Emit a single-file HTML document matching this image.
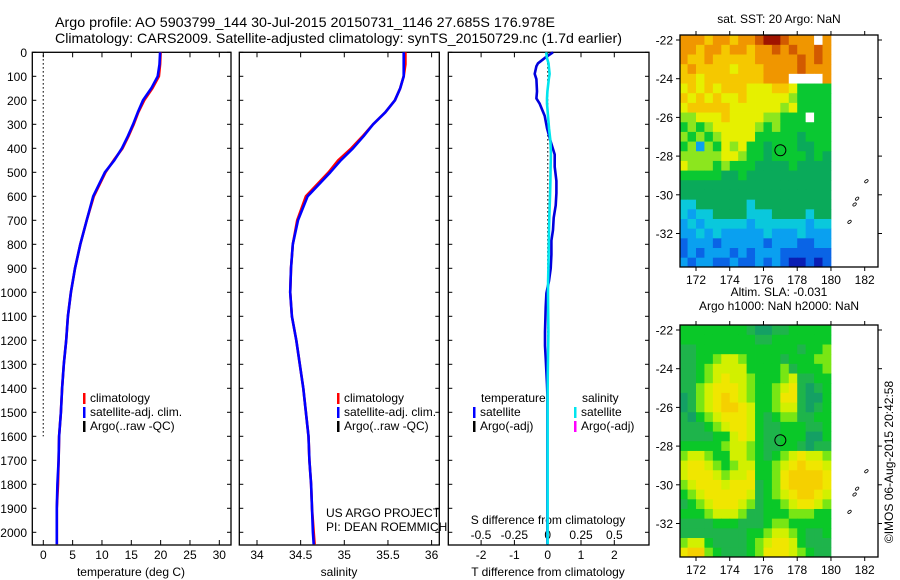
<!DOCTYPE html>
<html><head><meta charset="utf-8">
<style>
html,body{margin:0;padding:0;background:#fff;}
svg{display:block;font-family:"Liberation Sans",sans-serif;}
</style></head>
<body>
<svg id="chart" width="900" height="580" viewBox="0 0 900 580" xmlns="http://www.w3.org/2000/svg">
<rect x="0" y="0" width="900" height="580" fill="#fff"/>
<text x="55" y="27" font-size="14" textLength="500" lengthAdjust="spacingAndGlyphs">Argo profile: AO 5903799_144 30-Jul-2015 20150731_1146 27.685S 176.978E</text>
<text x="55" y="43" font-size="14" textLength="567" lengthAdjust="spacingAndGlyphs">Climatology: CARS2009. Satellite-adjusted climatology: synTS_20150729.nc (1.7d earlier)</text>
<g id="g"></g>
</svg>
<script>
// ---------- profile data ----------
const depths   = [0,50,100,150,200,250,300,350,400,450,500,600,700,800,900,1000,1100,1200,1300,1400,1500,1600,1700,1800,1900,2000,2050];
const tempClim = [20.0,19.9,19.7,18.6,17.2,16.2,15.4,14.5,13.5,12.0,10.6,8.6,7.4,6.3,5.4,4.7,4.2,3.9,3.5,3.2,3.0,2.7,2.6,2.5,2.3,2.3,2.3];
const tempSat  = [19.9,19.8,19.5,18.4,17.0,16.1,15.3,14.4,13.4,12.1,10.5,8.5,7.4,6.3,5.4,4.7,4.2,3.9,3.5,3.2,3.0,2.7,2.6,2.4,2.3,2.3,2.3];
const salClim  = [35.70,35.70,35.68,35.64,35.58,35.47,35.33,35.21,35.08,34.93,34.82,34.56,34.46,34.41,34.39,34.38,34.40,34.45,34.49,34.53,34.56,34.59,34.60,34.62,34.63,34.65,34.66];
const salSat   = [35.68,35.68,35.68,35.64,35.58,35.47,35.33,35.22,35.10,34.96,34.84,34.58,34.47,34.41,34.39,34.38,34.40,34.45,34.49,34.53,34.56,34.59,34.60,34.62,34.63,34.64,34.65];
const diffDepths = [0,21,46,58,90,112,163,192,214,265,316,368,426,477,536,587,638,689,740,784,843,901,952,1004,1062,1165,1223,1274,1333,1384,1429,1600,1800,2050];
const tDiff = [0.16,-0.06,-0.29,-0.34,-0.39,-0.34,-0.32,-0.34,-0.24,-0.09,-0.02,0.08,0.21,0.21,0.26,0.26,0.24,0.18,0.16,0.11,0.11,0.09,0.04,-0.04,-0.06,-0.08,-0.08,-0.06,-0.04,-0.02,-0.01,-0.01,-0.01,-0.01];
const sDiff = [-0.011,-0.007,0.006,0.008,0.014,0.008,-0.002,-0.005,-0.005,0.002,0.010,0.020,0.024,0.022,0.020,0.018,0.015,0.012,0.010,0.008,0.007,0.005,0.003,0.002,0.003,0.005,0.004,0.002,0.001,0.0,-0.001,-0.001,-0.001,-0.001];
const depthTicks = [0,100,200,300,400,500,600,700,800,900,1000,1100,1200,1300,1400,1500,1600,1700,1800,1900,2000];
const tempTicks = [0,5,10,15,20,25,30];
const salTicks = [34,34.5,35,35.5,36];
const tdTicks = [-2,-1,0,1,2];
const sdTicks = [-0.5,-0.25,0,0.25,0.5];
const sdTickLabels = ["-0.5","-0.25","0","0.25","0.5"];

// ---------- map data (0.5 deg cells, rows from -21.75 southward, cols from 171E) ----------
const sstGrid = [
"999899899abba999w9","99899899899a9a99a9","98898888899999a9a9","89888878889999a999",
"8878888888999wwww9","787878887778875555","878787787777765555","788888777777675555",
"667778777766555w55","565677777656555555","656567777555554555","562657675545554455",
"666667765545555454","766656555444454444","555554454444444444","444444444444444444",
"444444444444444444","334444443444444444","323344443334444344","232333332333333233",
"223232222232223222","122212222212221122","121222121222111111","212211211212100101"];
const sstColors = {"0":"#0a1eb4","1":"#0a64e6","2":"#0aa0f0","3":"#0ac8dc","4":"#0aaa5a","5":"#0ac832","6":"#8ce61e","7":"#e6f000","8":"#f5c800","9":"#f09600","a":"#d25a00","b":"#a01400","w":"#ffffff"};
const slaGrid = [
"222222221001122222","222222222112222222","112222222222221223","112234432222122233",
"112344442222312223","112345443222341122","113455543223451012","013456543223551002",
"013456654223441012","102345554212331122","111234554211222112","111122454211222002",
"222223443211221011","344322443212345443","455432344223456554","455543445223566665",
"345554555123566665","234555554123456654","123455543122345543","222344431122233322",
"111122211123322222","111111112234432112","344211112345542111","566321112355543211"];
const slaColors = {"0":"#14a064","1":"#1eb44b","2":"#0ac828","3":"#78e614","4":"#d2f000","5":"#f0e600","6":"#f5d000"};
const lonTicks = [172,174,176,178,180,182];
const latTicks = [-22,-24,-26,-28,-30,-32];
const argoLon = 177.0, argoLat = -27.7;

const NS="http://www.w3.org/2000/svg";
const G=document.getElementById('g');
function mk(tag,attrs,parent){const e=document.createElementNS(NS,tag);for(const k in attrs)e.setAttribute(k,attrs[k]);(parent||G).appendChild(e);return e;}

// scales
const yD = d => 52.3 + d*0.24;
const xT = t => 43.3 + t*5.867;
const xS = s => 257 + (s-34)*87.3;
const xTd = v => 547.7 + v*33.3;
const xSd = v => 547.7 + v*133.4;
const TOP=52.3, BOT=545;

function frame(x0,x1,name){
  const r=mk('rect',{x:x0,y:TOP,width:x1-x0,height:BOT-TOP,fill:'none',stroke:'#000','stroke-width':1.3});
  
  
  depthTicks.forEach(d=>{
    mk('line',{x1:x0,x2:x0+4,y1:yD(d),y2:yD(d),stroke:'#000'});
    mk('line',{x1:x1-4,x2:x1,y1:yD(d),y2:yD(d),stroke:'#000'});
  });
}
frame(32.3,231,'temperature-panel');
frame(239.3,439.3,'salinity-panel');
frame(448.3,649,'difference-panel');

depthTicks.forEach(d=>{
  const t=mk('text',{x:27,y:yD(d)+4.5,'font-size':12,'text-anchor':'end'});
  t.textContent=d;
  
  
});
function xticks(vals,labels,fx,yLab,name){
  vals.forEach((v,i)=>{
    const x=fx(v);
    mk('line',{x1:x,x2:x,y1:TOP,y2:TOP+5,stroke:'#000'});
    mk('line',{x1:x,x2:x,y1:BOT-5,y2:BOT,stroke:'#000'});
    const t=mk('text',{x:x,y:yLab,'font-size':12,'text-anchor':'middle'});
    t.textContent=labels[i];
    
    
  });
}
xticks(tempTicks,tempTicks.map(String),xT,559,'temperature-tick-label');
xticks(salTicks,salTicks.map(String),xS,559,'salinity-tick-label');
xticks(tdTicks,tdTicks.map(String),xTd,559,'t-difference-tick-label');
sdTicks.forEach((v,i)=>{
  const t=mk('text',{x:xSd(v),y:539,'font-size':12,'text-anchor':'middle'});
  t.textContent=sdTickLabels[i];
  
  
});
function label(x,y,txt,name,anchor,size){
  const t=mk('text',{x:x,y:y,'font-size':size||12,'text-anchor':anchor||'middle'});
  t.textContent=txt;
  
  
  return t;
}
label(131,576,'temperature (deg C)','temperature-axis-title');
label(339,576,'salinity','salinity-axis-title');
label(548,576,'T difference from climatology','t-difference-axis-title');
label(548,524,'S difference from climatology','s-difference-axis-title');
label(326,517,'US ARGO PROJECT','project-credit','start');
label(326,531,'PI: DEAN ROEMMICH','pi-credit','start');

// zero reference dotted lines
mk('line',{x1:xT(0),x2:xT(0),y1:TOP+3,y2:yD(1600),stroke:'#000','stroke-dasharray':'1.2,2.8','stroke-width':1.3});
mk('line',{x1:xTd(0),x2:xTd(0),y1:TOP+3,y2:yD(1400),stroke:'#000','stroke-dasharray':'1.2,2.8','stroke-width':1.3});

function series(xs,ds,fx,color,name,w){
  const pts=xs.map((v,i)=>fx(v).toFixed(1)+','+yD(ds[i]).toFixed(1)).join(' ');
  const p=mk('polyline',{points:pts,fill:'none',stroke:color,'stroke-width':w||2.6,'stroke-linejoin':'round'});
  
  
}
series(tempClim,depths,xT,'#ff0000','temperature-climatology-line');
series(tempSat,depths,xT,'#0000ff','temperature-satellite-line');
series(salClim,depths,xS,'#ff0000','salinity-climatology-line');
series(salSat,depths,xS,'#0000ff','salinity-satellite-line');
series(tDiff,diffDepths,xTd,'#0000dd','temperature-difference-line');
series(sDiff,diffDepths,xSd,'#00e5ee','salinity-difference-line');

function legendEntry(xb,y,color,txt,name){
  mk('rect',{x:xb,y:y-9,width:2.5,height:11,fill:color});
  const t=label(xb+7,y,txt,name,'start');
}
legendEntry(83,402,'#ff0000','climatology','legend-climatology');
legendEntry(83,416,'#0000ff','satellite-adj. clim.','legend-satellite-adj');
legendEntry(83,430,'#000000','Argo(..raw -QC)','legend-argo');
legendEntry(337,402,'#ff0000','climatology','legend-climatology-sal');
legendEntry(337,416,'#0000ff','satellite-adj. clim.','legend-satellite-adj-sal');
legendEntry(337,430,'#000000','Argo(..raw -QC)','legend-argo-sal');
label(481,402,'temperature','legend-temperature-heading','start');
label(582,402,'salinity','legend-salinity-heading','start');
legendEntry(473,416,'#0000ff','satellite','legend-t-satellite');
legendEntry(473,430,'#000000','Argo(-adj)','legend-t-argo');
legendEntry(574,416,'#00e5ee','satellite','legend-s-satellite');
legendEntry(574,430,'#ff00ff','Argo(-adj)','legend-s-argo');

// ---------- maps ----------
const lonX = lon => 696 + (lon-172)*16.87;
function drawMap(grid,colors,yTop,name,title1,title2){
  const latY = lat => yTop + 5 + (-22-lat)*19.35;
  const fL=680,fR=878,fT=yTop,fB=yTop+232;
  const g=mk('g',{});
  
  
  grid.forEach((row,r)=>{
    for(let c=0;c<row.length;c++){
      const lon0=171+c*0.5;
      let x0=Math.max(lonX(lon0),fL), x1=lonX(lon0+0.5);
      let y0=r===0?fT:latY(-21.75-r*0.5), y1=Math.min(latY(-22.25-r*0.5),fB);
      const cell=mk('rect',{x:x0.toFixed(2),y:y0.toFixed(2),width:(x1-x0+0.4).toFixed(2),height:(y1-y0+0.4).toFixed(2),fill:colors[row[c]]},g);
      
      
    }
  });
  mk('rect',{x:fL,y:fT,width:fR-fL,height:fB-fT,fill:'none',stroke:'#000','stroke-width':1.3});
  lonTicks.forEach(l=>{
    const x=lonX(l);
    mk('line',{x1:x,x2:x,y1:fT-4,y2:fT,stroke:'#000'});
    mk('line',{x1:x,x2:x,y1:fB,y2:fB+4,stroke:'#000'});
    label(x,fB+17,String(l),'longitude-tick-label');
  });
  latTicks.forEach(l=>{
    const y=latY(l);
    mk('line',{x1:fL-4,x2:fL,y1:y,y2:y,stroke:'#000'});
    mk('line',{x1:fR,x2:fR+4,y1:y,y2:y,stroke:'#000'});
    label(673,y+4.5,String(l),'latitude-tick-label','end');
  });
  // islands
  [[182.1,-29.3],[181.55,-30.2],[181.4,-30.5],[181.1,-31.4]].forEach(p=>{
    mk('ellipse',{cx:lonX(p[0]),cy:latY(p[1]),rx:2,ry:1.2,fill:'none',stroke:'#000','stroke-width':0.8,transform:`rotate(-40 ${lonX(p[0])} ${latY(p[1])})`});
  });
  const c=mk('circle',{cx:lonX(argoLon),cy:latY(argoLat),r:5.5,fill:'none',stroke:'#000','stroke-width':1});
  
  
  if(title2){label(779,yTop-29,title1,'map-title');label(779,yTop-15,title2,'map-subtitle');}
  else label(779,yTop-12,title1,'map-title');
}
drawMap(sstGrid,sstColors,35,'sst-map','sat. SST: 20 Argo: NaN');
drawMap(slaGrid,slaColors,325,'sla-map','Altim. SLA: -0.031','Argo h1000: NaN h2000: NaN');

const cp=mk('text',{x:0,y:0,'font-size':12,'text-anchor':'middle',transform:'translate(893 462) rotate(-90)'});
cp.textContent='©IMOS 06-Aug-2015 20:42:58';


</script>
</body></html>
